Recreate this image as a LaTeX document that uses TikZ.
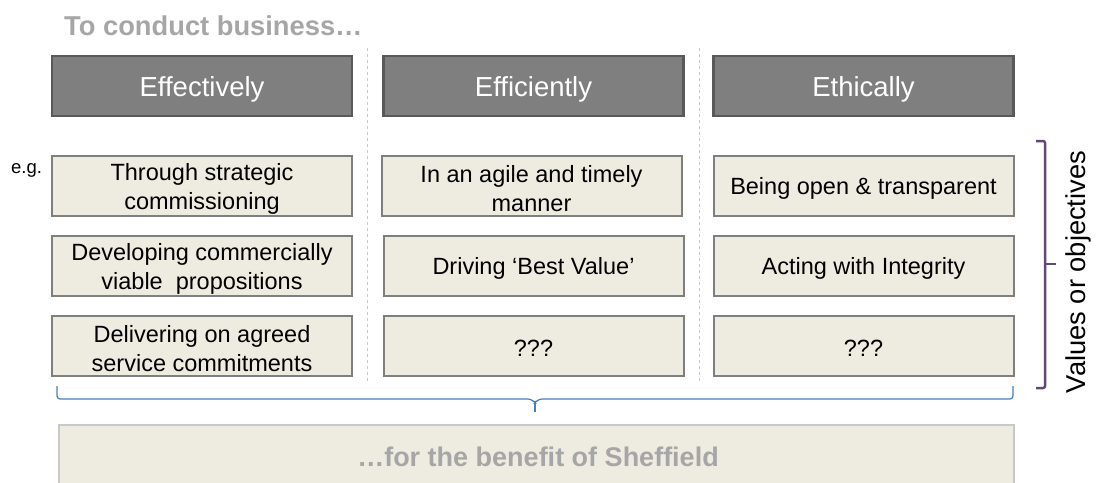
\documentclass[tikz,border=0pt]{standalone}
\usepackage{fontspec}
\setmainfont{Liberation Sans}
\definecolor{hdrfill}{HTML}{7F7F7F}
\definecolor{hdrline}{HTML}{595959}
\definecolor{tan}{HTML}{EEECE1}
\definecolor{tanline}{HTML}{7F7F7F}
\definecolor{lightline}{HTML}{C8C8C8}
\definecolor{titlegray}{HTML}{A6A6A6}
\definecolor{purp}{HTML}{5F497A}
\definecolor{bluebr}{HTML}{4A7EBB}
\tikzset{
  hdr/.style={draw=hdrline, line width=2.5pt, fill=hdrfill, minimum width=300pt, minimum height=60pt, inner sep=0pt},
  hdrtext/.style={inner sep=0pt, text=white, font=\fontsize{27.5}{30}\selectfont},
  item/.style={draw=tanline, line width=2pt, fill=tan, minimum width=300pt, minimum height=60pt, inner sep=0pt},
  itemtext/.style={inner sep=0pt, align=center, font=\fontsize{23.5}{29}\selectfont},
  sep/.style={draw=lightline, dashed, line width=0.8pt},
}
\begin{document}
\begin{tikzpicture}[x=1pt,y=-1pt]
\useasboundingbox (0,0) rectangle (1099,482);
% title
\node[anchor=west, text=titlegray, font=\fontsize{27.3}{30}\selectfont\bfseries, inner sep=0pt] (title) at (64,26) {To conduct business…};
% separators
\coordinate (s1t) at (367,48); \coordinate (s1b) at (367,382);
\coordinate (s2t) at (699,48); \coordinate (s2b) at (699,382);
\draw[sep] (s1t) -- (s1b);
\draw[sep] (s2t) -- (s2b);
% headers
\node[hdr] (h1) at (202,86) {};
\node[hdr] (h2) at (533.5,86) {};
\node[hdr] (h3) at (863.5,86) {};
\node[hdrtext] (h1t) at ([yshift=-3pt]h1.center) {Effectively};
\node[hdrtext] (h2t) at ([yshift=-3pt]h2.center) {Efficiently};
\node[hdrtext] (h3t) at ([yshift=-3pt]h3.center) {Ethically};
% e.g.
\node[anchor=west, inner sep=0pt, font=\fontsize{18.5}{20}\selectfont] (eg) at (11,170) {e.g.};
% item boxes
\node[item] (a1) at (202,186) {};
\node[item] (a2) at (202,266) {};
\node[item] (a3) at (202,346) {};
\node[item] (b1) at (531.5,186) {};
\node[item] (b2) at (533.5,266) {};
\node[item] (b3) at (533.5,346) {};
\node[item] (c1) at (863.5,186) {};
\node[item] (c2) at (863.5,266) {};
\node[item] (c3) at (863.5,346) {};
% item texts
\node[itemtext] (a1t) at ([yshift=-2.5pt]a1.center) {Through strategic\\commissioning};
\node[itemtext] (a2t) at ([yshift=-2.5pt]a2.center) {Developing commercially\\viable\ \ propositions};
\node[itemtext] (a3t) at ([yshift=-2.5pt]a3.center) {Delivering on agreed\\service commitments};
\node[itemtext] (b1t) at ([yshift=-2.5pt]b1.center) {In an agile and timely\\manner};
\node[itemtext] (b2t) at ([yshift=-2pt]b2.center) {Driving ‘Best Value’};
\node[itemtext] (b3t) at ([yshift=-2pt]b3.center) {???};
\node[itemtext] (c1t) at ([yshift=-2pt]c1.center) {Being open \& transparent};
\node[itemtext] (c2t) at ([yshift=-2pt]c2.center) {Acting with Integrity};
\node[itemtext] (c3t) at ([yshift=-2pt]c3.center) {???};
% purple bracket
\coordinate (pt) at (1036,141);
\coordinate (pb) at (1036,388);
\coordinate (pm) at (1056,264);
\draw[purp, line width=2.5pt, rounded corners=2pt] (pt) -- (1045,141) -- (1045,388) -- (pb);
\draw[purp, line width=2.5pt] (1045,264) -- (pm);
\node[rotate=90, inner sep=0pt, font=\fontsize{27.3}{30}\selectfont] (vals) at (1078,272) {Values or objectives};
% blue brace
\coordinate (bl) at (57,386);
\coordinate (br) at (1013,386);
\coordinate (bm) at (535,412);
\draw[bluebr, line width=1.2pt, rounded corners=3pt] (bl) -- (57,399) -- (531,399) -- (535,403) -- (539,399) -- (1013,399) -- (br);
\draw[bluebr, line width=1.2pt] (535,401) -- (bm);
% bottom box
\node[draw=lightline, line width=2pt, fill=tan, minimum width=955pt, minimum height=62pt, inner sep=0pt, anchor=north west] (bot) at (58,424) {};
\node[text=titlegray, font=\fontsize{27}{30}\selectfont\bfseries, inner sep=0pt] (bottxt) at (538,457) {…for the benefit of Sheffield};
\end{tikzpicture}
\end{document}
